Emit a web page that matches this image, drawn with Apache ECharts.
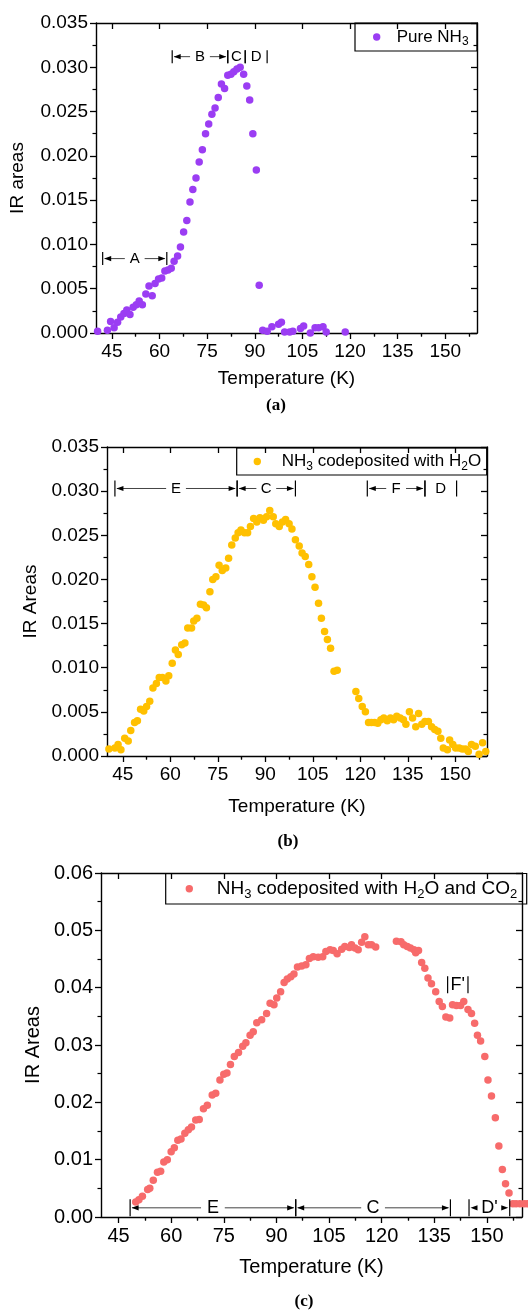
<!DOCTYPE html>
<html>
<head>
<meta charset="utf-8">
<script src="https://cdn.jsdelivr.net/npm/echarts@6/dist/echarts.min.js"></script>
<style>
  html, body { margin: 0; padding: 0; background: #fff; }
  #chart { width: 528px; height: 1311px; }
</style>
</head>
<body>
<div id="chart"></div>
<script>
// ---- (a) pure NH3 ----
const tempA = [40.5, 43.6, 44.6, 45.7, 46.8, 47.8, 48.8, 49.7, 50.7, 51.7, 52.7, 53.6, 54.6, 55.7, 56.7, 57.7, 58.6, 59.7, 60.7, 61.7,
  62.7, 63.7, 64.6, 65.7, 66.6, 67.6, 68.6, 69.6, 70.5, 71.5, 72.5, 73.5, 74.5, 75.5, 76.5, 77.5, 78.5, 79.5, 80.5, 81.5,
  82.5, 83.4, 84.4, 85.4, 86.5, 87.5, 88.4, 89.4, 90.5, 91.4, 92.5, 93.9, 95.4, 97.5, 98.4, 99.4, 101.0, 102.0, 104.4, 105.4,
  107.5, 109.0, 110.1, 111.5, 112.5, 118.5];
const areaA = [0.0002, 0.0003, 0.0013, 0.0006, 0.0012, 0.0018, 0.0022, 0.0026, 0.0021, 0.0029, 0.0032, 0.0036, 0.0032, 0.0044, 0.0053, 0.0042, 0.0056, 0.0061, 0.0062, 0.0070,
  0.0071, 0.0073, 0.0081, 0.0087, 0.0097, 0.0114, 0.0127, 0.0148, 0.0162, 0.0175, 0.0193, 0.0207, 0.0225, 0.0236, 0.0247, 0.0254, 0.0266, 0.0281, 0.0276, 0.0291,
  0.0292, 0.0295, 0.0298, 0.0300, 0.0292, 0.0279, 0.0263, 0.0225, 0.0184, 0.0054, 0.0003, 0.0002, 0.0007, 0.0010, 0.0012, 0.0001, 0.0001, 0.0002, 0.0005, 0.0008,
  0.0000, 0.0006, 0.0006, 0.0007, 0.0001, 0.0001];

// ---- (b) NH3 codeposited with H2O ----
const tempB = [40.6, 42.5, 43.5, 44.4, 45.6, 46.7, 47.5, 48.7, 49.6, 50.6, 51.6, 52.5, 53.5, 54.5, 55.6, 56.5, 57.5, 58.6, 59.5, 60.6,
  61.6, 62.5, 63.6, 64.6, 65.5, 66.7, 67.4, 68.4, 69.5, 70.5, 71.4, 72.5, 73.4, 74.4, 75.4, 76.4, 77.5, 78.4, 79.4, 80.5,
  81.4, 82.3, 83.4, 84.4, 85.3, 86.3, 87.3, 88.3, 89.4, 90.4, 91.4, 92.5, 93.3, 94.4, 95.4, 96.4, 97.5, 98.4, 99.5, 100.7,
  101.6, 102.6, 103.7, 104.7, 105.7, 106.8, 107.7, 108.7, 109.6, 110.6, 111.7, 112.7, 118.6, 119.5, 120.6, 121.6, 122.6, 123.5, 124.5, 125.5,
  126.5, 127.4, 128.5, 129.5, 130.5, 131.5, 132.6, 133.6, 134.4, 135.5, 136.5, 137.5, 138.4, 139.4, 140.4, 141.5, 142.5, 143.5, 144.5, 145.4,
  146.2, 147.5, 148.2, 149.2, 150.1, 151.2, 152.2, 153.2, 154.1, 155.1, 156.3, 157.5, 158.6, 159.6];
const areaB = [0.0008, 0.0009, 0.0013, 0.0007, 0.0020, 0.0017, 0.0029, 0.0038, 0.0040, 0.0053, 0.0051, 0.0056, 0.0062, 0.0077, 0.0082, 0.0089, 0.0089, 0.0085, 0.0091, 0.0105,
  0.0120, 0.0115, 0.0126, 0.0128, 0.0145, 0.0145, 0.0153, 0.0156, 0.0172, 0.0171, 0.0168, 0.0186, 0.0200, 0.0203, 0.0216, 0.0210, 0.0213, 0.0224, 0.0239, 0.0247,
  0.0253, 0.0256, 0.0253, 0.0253, 0.0260, 0.0269, 0.0265, 0.0270, 0.0267, 0.0271, 0.0278, 0.0271, 0.0263, 0.0260, 0.0265, 0.0268, 0.0263, 0.0257, 0.0245, 0.0238,
  0.0230, 0.0226, 0.0217, 0.0203, 0.0191, 0.0173, 0.0156, 0.0141, 0.0132, 0.0122, 0.0096, 0.0097, 0.0073, 0.0065, 0.0056, 0.0050, 0.0038, 0.0038, 0.0038, 0.0037,
  0.0041, 0.0043, 0.0040, 0.0043, 0.0041, 0.0045, 0.0043, 0.0041, 0.0036, 0.0050, 0.0043, 0.0033, 0.0048, 0.0036, 0.0039, 0.0039, 0.0033, 0.0030, 0.0028, 0.0020,
  0.0009, 0.0007, 0.0018, 0.0013, 0.0009, 0.0009, 0.0008, 0.0008, 0.0005, 0.0013, 0.0011, 0.0002, 0.0015, 0.0005];

// ---- (c) NH3 codeposited with H2O and CO2 ----
const tempC = [49.9, 50.8, 51.8, 53.3, 53.9, 54.9, 56.1, 57.0, 57.9, 58.9, 60.0, 60.9, 61.9, 62.8, 63.9, 64.9, 65.8, 67.0, 68.0, 69.2,
  70.3, 71.7, 72.7, 73.9, 75.0, 75.9, 76.9, 78.0, 79.2, 80.4, 81.3, 82.5, 83.4, 84.4, 85.8, 87.2, 88.2, 89.3, 90.1, 91.2,
  92.2, 93.1, 94.1, 95.0, 96.0, 97.2, 98.4, 99.4, 100.5, 101.9, 103.2, 104.1, 105.3, 106.2, 107.3, 108.6, 109.5, 110.8, 111.4, 112.4,
  113.3, 114.3, 115.2, 116.2, 117.1, 118.3, 124.2, 125.5, 126.3, 127.3, 128.2, 129.2, 129.7, 130.5, 131.4, 132.3, 133.2, 134.2, 135.4, 136.4,
  137.3, 138.3, 139.4, 140.2, 141.3, 142.5, 143.4, 144.6, 145.6, 146.5, 147.3, 148.2, 149.4, 150.3, 151.3, 152.4, 153.4, 154.4, 155.3, 156.3,
  157.4, 158.3, 159.4, 160.6, 161.5];
const areaC = [0.0026, 0.0030, 0.0036, 0.0048, 0.0050, 0.0064, 0.0078, 0.0080, 0.0096, 0.0100, 0.0114, 0.0121, 0.0134, 0.0136, 0.0146, 0.0152, 0.0157, 0.0169, 0.0170, 0.0189,
  0.0195, 0.0213, 0.0216, 0.0239, 0.0249, 0.0251, 0.0266, 0.0280, 0.0287, 0.0298, 0.0304, 0.0317, 0.0323, 0.0339, 0.0344, 0.0355, 0.0373, 0.0370, 0.0382, 0.0393,
  0.0409, 0.0415, 0.0419, 0.0424, 0.0436, 0.0438, 0.0440, 0.0451, 0.0454, 0.0453, 0.0454, 0.0463, 0.0466, 0.0465, 0.0459, 0.0467, 0.0472, 0.0470, 0.0475, 0.0469,
  0.0466, 0.0479, 0.0489, 0.0475, 0.0475, 0.0471, 0.0481, 0.0480, 0.0475, 0.0472, 0.0469, 0.0466, 0.0461, 0.0465, 0.0444, 0.0434, 0.0417, 0.0407, 0.0393, 0.0376,
  0.0367, 0.0349, 0.0347, 0.0370, 0.0369, 0.0369, 0.0376, 0.0362, 0.0355, 0.0338, 0.0317, 0.0307, 0.0280, 0.0239, 0.0211, 0.0173, 0.0124, 0.0083, 0.0058, 0.0042,
  0.0023, 0.0023, 0.0023, 0.0023, 0.0023];

// shared temperature axis ticks
const xMajorTicks = [45, 60, 75, 90, 105, 120, 135, 150];
const xMinorTicks = [52.5, 67.5, 82.5, 97.5, 112.5, 127.5, 142.5, 157.5];

// stage brackets: [from K, to K, level, arrows (1/0)] and their letters
const stagesA = [[42.1, 62.3, 0.0084, 1], [64, 81.5, 0.0312, 1], [81.5, 87, 0.0312, 0], [87, 93.9, 0.0312, 0]];
const stageLabelsA = ['A', 'B', 'C', 'D'];
const stagesB = [[42.5, 81.1, 0.0303, 1], [81.1, 99.5, 0.0303, 1], [122.2, 140.4, 0.0303, 1], [140.4, 150.4, 0.0303, 0]];
const stageLabelsB = ['E', 'C', 'F', 'D'];
const stagesC = [[48.3, 95.5, 0.0016, 1], [95.5, 139.6, 0.0016, 1], [144.9, 156.5, 0.0016, 1], [138.8, 144.6, 0.0405, 0]];
const stageLabelsC = ['E', 'C', "D'", "F'"];

const FONT = '"Liberation Sans", Arial, Helvetica, sans-serif';

const panels = [
  { grid: { left: 96, top: 23, width: 381, height: 310 }, yMax: 0.035, yStep: 0.005, digits: 3, tick: 19,
    yName: 'IR areas', yGap: 69, xGap: 36, color: '#9B3DF3', temp: tempA, area: areaA,
    stages: stagesA, labels: stageLabelsA, stageFont: 15, bar: 13, clip: true },
  { grid: { left: 107, top: 447, width: 380, height: 309 }, yMax: 0.035, yStep: 0.005, digits: 3, tick: 19,
    yName: 'IR Areas', yGap: 62, xGap: 41, color: '#FFC000', temp: tempB, area: areaB,
    stages: stagesB, labels: stageLabelsB, stageFont: 15, bar: 16, clip: true },
  { grid: { left: 101, top: 873, width: 421, height: 344 }, yMax: 0.06, yStep: 0.01, digits: 2, tick: 20,
    yName: 'IR Areas', yGap: 56, xGap: 40, color: '#F76B6B', temp: tempC, area: areaC,
    stages: stagesC, labels: stageLabelsC, stageFont: 18, bar: 17, clip: false }
];

const black = '#000';
const axisLine = { show: true, onZero: false, lineStyle: { color: black, width: 1.4 } };

function bracketRenderer(labels, fontSize, barH) {
  return function (params, api) {
    const a = api.coord([api.value(0), api.value(2)]);
    const b = api.coord([api.value(1), api.value(2)]);
    const y = a[1];
    const h = barH / 2;
    const text = labels[params.dataIndex];
    const children = [
      { type: 'line', shape: { x1: a[0], y1: y - h, x2: a[0], y2: y + h }, style: { stroke: black, lineWidth: 1.2 } },
      { type: 'line', shape: { x1: b[0], y1: y - h, x2: b[0], y2: y + h }, style: { stroke: black, lineWidth: 1.2 } },
      { type: 'text', style: { text: text, x: (a[0] + b[0]) / 2, y: y, align: 'center', verticalAlign: 'middle',
          fontSize: fontSize, fontFamily: FONT, fill: black } }
    ];
    if (api.value(3) === 1) {
      const mid = (a[0] + b[0]) / 2;
      const gap = text.length * fontSize * 0.36 + fontSize * 0.3;
      const head = 7, hw = 2.6;
      children.push(
        { type: 'line', shape: { x1: mid - gap, y1: y, x2: a[0] + 2, y2: y }, style: { stroke: '#444', lineWidth: 1 } },
        { type: 'line', shape: { x1: mid + gap, y1: y, x2: b[0] - 2, y2: y }, style: { stroke: '#444', lineWidth: 1 } },
        { type: 'polygon', shape: { points: [[a[0] + 1.5, y], [a[0] + 1.5 + head, y - hw], [a[0] + 1.5 + head, y + hw]] }, style: { fill: black } },
        { type: 'polygon', shape: { points: [[b[0] - 1.5, y], [b[0] - 1.5 - head, y - hw], [b[0] - 1.5 - head, y + hw]] }, style: { fill: black } }
      );
    }
    return { type: 'group', children: children };
  };
}

const grids = [], xAxes = [], yAxes = [], series = [];
panels.forEach(function (p, i) {
  grids.push(Object.assign({ containLabel: false, outerBoundsMode: 'none' }, p.grid));
  const base = { gridIndex: i, type: 'value', min: 40, max: 160, splitLine: { show: false } };
  // bottom: labelled major ticks
  xAxes.push(Object.assign({}, base, {
    position: 'bottom', axisLine: axisLine,
    axisTick: { show: true, customValues: xMajorTicks, length: 6, lineStyle: { color: black, width: 1.3 } },
    axisLabel: { show: true, customValues: xMajorTicks, fontSize: p.tick, fontFamily: FONT, color: black, margin: 9 },
    name: 'Temperature (K)', nameLocation: 'middle', nameGap: p.xGap,
    nameTextStyle: { fontSize: p.tick, fontFamily: FONT, color: black }
  }));
  // bottom: minor ticks
  xAxes.push(Object.assign({}, base, {
    position: 'bottom', axisLine: { show: false },
    axisTick: { show: true, customValues: xMinorTicks, length: 3.5, lineStyle: { color: black, width: 1.2 } },
    axisLabel: { show: false }
  }));
  // top frame: major + minor ticks pointing inwards
  xAxes.push(Object.assign({}, base, {
    position: 'top', axisLine: axisLine,
    axisTick: { show: true, inside: true, customValues: xMajorTicks, length: 6, lineStyle: { color: black, width: 1.3 } },
    axisLabel: { show: false }
  }));
  xAxes.push(Object.assign({}, base, {
    position: 'top', axisLine: { show: false },
    axisTick: { show: true, inside: true, customValues: xMinorTicks, length: 3.5, lineStyle: { color: black, width: 1.2 } },
    axisLabel: { show: false }
  }));
  const ybase = { gridIndex: i, type: 'value', min: 0, max: p.yMax, interval: p.yStep, splitLine: { show: false } };
  yAxes.push(Object.assign({}, ybase, {
    position: 'left', axisLine: axisLine,
    axisTick: { show: true, length: 6, lineStyle: { color: black, width: 1.3 } },
    minorTick: { show: true, splitNumber: 2, length: 3.5, lineStyle: { color: black, width: 1.2 } },
    axisLabel: { fontSize: p.tick, fontFamily: FONT, color: black, margin: 8,
      formatter: (function (d) { return function (v) { return v.toFixed(d); }; })(p.digits) },
    name: p.yName, nameLocation: 'middle', nameGap: p.yGap, nameRotate: 90,
    nameTextStyle: { fontSize: p.tick, fontFamily: FONT, color: black }
  }));
  yAxes.push(Object.assign({}, ybase, {
    position: 'right', axisLine: axisLine,
    axisTick: { show: true, inside: true, length: 6, lineStyle: { color: black, width: 1.3 } },
    minorTick: { show: true, splitNumber: 2, length: 3.5, lineStyle: { color: black, width: 1.2 } },
    axisLabel: { show: false }
  }));
  series.push({
    type: 'scatter', xAxisIndex: 4 * i, yAxisIndex: 2 * i, clip: p.clip,
    symbol: 'circle', symbolSize: 7.5,
    itemStyle: { color: p.color, opacity: 1 },
    data: p.temp.map(function (t, k) { return [t, p.area[k]]; }),
    silent: true, z: 3
  });
  series.push({
    type: 'custom', xAxisIndex: 4 * i, yAxisIndex: 2 * i, clip: false,
    encode: { x: [0, 1], y: 2 },
    data: p.stages,
    renderItem: bracketRenderer(p.labels, p.stageFont, p.bar),
    silent: true, z: 4
  });
});

// legend boxes with sub-scripted formulas
function legendBox(x, y, w, h, color, rich, fontSize, markerDx, textDx) {
  return {
    type: 'group', x: x, y: y, z: 10,
    children: [
      { type: 'rect', shape: { x: 0, y: 0, width: w, height: h }, style: { fill: '#fff', stroke: black, lineWidth: 1.2 } },
      { type: 'circle', shape: { cx: markerDx, cy: h / 2, r: 3.7 }, style: { fill: color } },
      { type: 'text', x: textDx, y: h / 2, style: {
          text: rich, verticalAlign: 'middle', align: 'left', fontFamily: FONT, fontSize: fontSize, fill: black,
          rich: {
            n: { fontSize: fontSize, fontFamily: FONT, lineHeight: fontSize + 5, fill: black },
            s: { fontSize: Math.round(fontSize * 0.68), fontFamily: FONT, lineHeight: Math.round(fontSize * 0.68), verticalAlign: 'bottom', fill: black }
          } } }
    ]
  };
}

const captions = [['(a)', 276, 406], ['(b)', 288, 842], ['(c)', 304, 1302]];

const graphics = [
  legendBox(355, 23, 122, 28, panels[0].color, '{n|Pure NH}{s|3}', 17, 21.7, 41.7),
  legendBox(236.7, 448, 250, 27, panels[1].color, '{n|NH}{s|3}{n| codeposited with H}{s|2}{n|O}', 17, 20.6, 45),
  legendBox(165.7, 873.5, 361, 30.5, panels[2].color, '{n|NH}{s|3}{n| codeposited with H}{s|2}{n|O and CO}{s|2}', 19, 23.6, 51)
].concat(captions.map(function (c) {
  return { type: 'text', x: c[1], y: c[2], style: { text: c[0], align: 'center', verticalAlign: 'middle',
    fontFamily: '"Liberation Serif", "Times New Roman", serif', fontWeight: 'bold', fontSize: 17, fill: black } };
}));

const chart = echarts.init(document.getElementById('chart'), null, { renderer: 'canvas' });
chart.setOption({
  animation: false,
  backgroundColor: '#fff',
  grid: grids,
  xAxis: xAxes,
  yAxis: yAxes,
  series: series,
  graphic: graphics
});
</script>
</body>
</html>
